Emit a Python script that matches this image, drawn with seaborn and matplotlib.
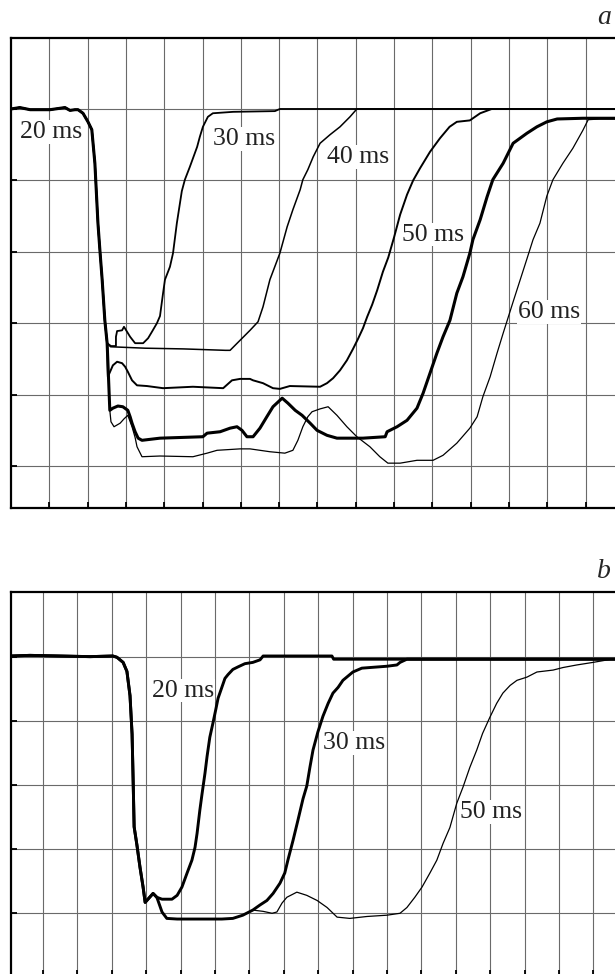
import pandas as pd
import seaborn as sns
import matplotlib.pyplot as plt

# panel a: time and signal, both in grid divisions
head_a_t = [0.0, 0.23, 0.5, 1.02, 1.41, 1.54, 1.67, 1.75, 1.88, 2.01, 2.11, 2.19, 2.27, 2.32, 2.38, 2.45, 2.51]
head_a_v = [5.0, 5.02, 4.99, 4.99, 5.02, 4.98, 4.99, 4.99, 4.94, 4.82, 4.71, 4.24, 3.40, 3.03, 2.61, 2.04, 1.72]

a20_t = [2.61, 2.74, 2.74, 2.77, 2.90, 2.95, 3.11, 3.24, 3.45, 3.58, 3.68, 3.81, 3.89, 3.97, 4.02, 4.15, 4.23,
         4.33, 4.46, 4.54, 4.67, 4.86, 4.93, 5.01, 5.14, 5.27, 5.80, 6.89, 7.02, 15.77]
a20_v = [1.68, 1.68, 1.81, 1.89, 1.90, 1.95, 1.81, 1.72, 1.72, 1.79, 1.88, 2.00, 2.10, 2.42, 2.61, 2.79, 2.98,
         3.40, 3.85, 4.01, 4.19, 4.47, 4.61, 4.75, 4.89, 4.94, 4.96, 4.97, 5.00, 5.00]

a30_t = [2.60, 3.50, 4.50, 5.60, 5.72, 5.98, 6.24, 6.45, 6.58, 6.76, 7.02, 7.21, 7.36, 7.55, 7.62, 7.75, 7.89,
         8.07, 8.33, 8.59, 8.85, 9.03, 15.77]
a30_v = [1.67, 1.65, 1.64, 1.62, 1.62, 1.76, 1.90, 2.02, 2.23, 2.61, 2.98, 3.35, 3.59, 3.87, 4.01, 4.15, 4.33,
         4.52, 4.64, 4.75, 4.89, 5.00, 5.00]

a40_t = [2.53, 2.66, 2.77, 2.90, 2.98, 3.05, 3.16, 3.29, 3.55, 3.97, 4.75, 5.54, 5.77, 5.98, 6.24, 6.32, 6.58,
         6.84, 7.02, 7.28, 8.07, 8.25, 8.41, 8.59, 8.77, 8.93, 9.06, 9.19, 9.30, 9.43, 9.56, 9.71, 9.85, 10.00,
         10.16, 10.34, 10.50, 10.68, 10.94, 11.20, 11.45, 11.64, 11.98, 12.25, 12.55, 15.77]
a40_v = [1.25, 1.41, 1.46, 1.44, 1.39, 1.32, 1.20, 1.13, 1.12, 1.09, 1.11, 1.09, 1.20, 1.22, 1.22, 1.20, 1.16,
         1.09, 1.08, 1.12, 1.11, 1.16, 1.23, 1.34, 1.48, 1.64, 1.78, 1.93, 2.09, 2.26, 2.46, 2.72, 2.92, 3.20,
         3.52, 3.80, 4.00, 4.17, 4.40, 4.59, 4.75, 4.82, 4.84, 4.94, 5.00, 5.00]

a50_t = [2.58, 2.66, 2.79, 2.92, 3.05, 3.11, 3.16, 3.24, 3.32, 3.42, 3.89, 5.01, 5.12, 5.46, 5.72, 5.90, 6.03,
         6.16, 6.32, 6.50, 6.68, 6.84, 7.08, 7.23, 7.42, 7.60, 7.81, 7.99, 8.25, 8.51, 9.19, 9.77, 9.82, 10.08,
         10.34, 10.60, 10.76, 10.94, 11.12, 11.28, 11.46, 11.64, 11.80, 11.98, 12.06, 12.25, 12.43, 12.58, 12.85,
         13.11, 13.47, 13.73, 13.99, 14.26, 14.93, 15.77]
a50_v = [0.78, 0.81, 0.84, 0.83, 0.78, 0.69, 0.60, 0.48, 0.39, 0.36, 0.39, 0.41, 0.46, 0.48, 0.53, 0.55, 0.50,
         0.41, 0.41, 0.53, 0.69, 0.83, 0.95, 0.88, 0.78, 0.71, 0.60, 0.50, 0.43, 0.39, 0.39, 0.41, 0.48, 0.55,
         0.64, 0.81, 1.02, 1.30, 1.58, 1.81, 2.04, 2.42, 2.65, 2.98, 3.17, 3.45, 3.77, 4.01, 4.24,
         4.52, 4.66, 4.75, 4.82, 4.86, 4.87, 4.87]

a60_t = [2.58, 2.61, 2.69, 2.85, 2.95, 3.05, 3.16, 3.24, 3.29, 3.42, 3.89, 4.75, 5.12, 5.38, 5.98, 6.24, 6.76,
         7.15, 7.36, 7.49, 7.62, 7.75, 7.86, 8.07, 8.28, 8.51, 8.77, 9.03, 9.37, 9.63, 9.84, 10.16, 10.60, 11.02,
         11.28, 11.64, 11.98, 12.17, 12.32, 12.51, 12.69, 12.85, 12.98, 13.11, 13.29, 13.47, 13.63, 13.81, 13.99,
         14.15, 14.41, 14.67, 14.93, 15.07, 15.38, 15.77]
a60_v = [0.78, 0.62, 0.55, 0.60, 0.66, 0.71, 0.55, 0.40, 0.27, 0.13, 0.14, 0.13, 0.18, 0.22, 0.24, 0.24, 0.20,
         0.18, 0.22, 0.36, 0.55, 0.69, 0.76, 0.80, 0.83, 0.71, 0.55, 0.41, 0.27, 0.13, 0.04, 0.04, 0.08, 0.08,
         0.15, 0.32, 0.53, 0.69, 0.97, 1.25, 1.58, 1.86, 2.08, 2.30, 2.60, 2.90, 3.17, 3.40, 3.78,
         4.01, 4.24, 4.45, 4.70, 4.85, 4.86, 4.86]

# panel b
head_b_t = [0.07, 0.62, 1.49, 2.37, 3.03, 3.15, 3.33, 3.44, 3.53, 3.59, 3.62, 3.65, 3.73, 3.82, 3.91, 3.97, 4.20, 4.31]
head_b_v = [4.02, 4.03, 4.02, 4.01, 4.02, 4.00, 3.92, 3.78, 3.40, 2.80, 2.10, 1.35, 1.07, 0.72, 0.41, 0.17, 0.31, 0.25]

b20_t = [4.46, 4.75, 4.90, 5.04, 5.19, 5.33, 5.42, 5.48, 5.56, 5.62, 5.71, 5.77, 5.85, 5.94, 6.03, 6.09, 6.20,
         6.29, 6.38, 6.52, 6.67, 6.87, 7.10, 7.31, 7.40, 9.40, 9.45, 17.63]
b20_v = [0.22, 0.22, 0.28, 0.41, 0.63, 0.83, 1.03, 1.25, 1.61, 1.85, 2.19, 2.45, 2.75, 2.97, 3.20, 3.36, 3.53,
         3.67, 3.73, 3.81, 3.85, 3.90, 3.92, 3.96, 4.02, 4.02, 3.97, 3.97]

b30_t = [4.46, 4.60, 4.90, 6.20, 6.52, 6.81, 7.10, 7.31, 7.51, 7.69, 7.89, 8.03, 8.12, 8.27, 8.41, 8.56, 8.67,
         8.76, 8.85, 8.99, 9.14, 9.29, 9.43, 9.58, 9.72, 10.01, 10.27, 10.51, 11.00, 11.29, 11.38, 11.58, 17.63]
b30_v = [0.02, -0.08, -0.09, -0.09, -0.08, -0.03, 0.05, 0.13, 0.20, 0.31, 0.47, 0.63, 0.83, 1.14, 1.45, 1.79, 1.99,
         2.28, 2.55, 2.83, 3.08, 3.28, 3.44, 3.53, 3.64, 3.77, 3.83, 3.84, 3.86, 3.88, 3.92, 3.97, 3.97]

b50_t = [4.46, 4.60, 4.90, 6.20, 6.52, 6.81, 7.10, 7.40, 7.66, 7.80, 7.95, 8.09, 8.38, 8.67, 8.97, 9.26, 9.55,
         9.92, 10.42, 11.00, 11.38, 11.58, 11.81, 12.02, 12.25, 12.45, 12.63, 12.83, 13.03, 13.21, 13.41, 13.61,
         13.78, 13.99, 14.19, 14.37, 14.58, 14.78, 15.07, 15.36, 15.83, 16.12, 16.52, 16.99, 17.63]
b50_v = [0.02, -0.08, -0.09, -0.09, -0.08, -0.03, 0.05, 0.03, 0.00, 0.02, 0.16, 0.25, 0.33, 0.28, 0.20, 0.09, -0.06,
         -0.08, -0.05, -0.03, 0.00, 0.09, 0.25, 0.41, 0.63, 0.83, 1.09, 1.34, 1.72, 1.97, 2.28, 2.55,
         2.81, 3.06, 3.28, 3.44, 3.56, 3.64, 3.69, 3.77, 3.80, 3.84, 3.88, 3.92, 3.98]

labels_a = ["20 ms", "30 ms", "40 ms", "50 ms", "60 ms"]
label_a_t = [0.23, 5.27, 8.25, 10.21, 13.24]
label_a_v = [4.68, 4.58, 4.33, 3.24, 2.16]
labels_b = ["20 ms", "30 ms", "50 ms"]
label_b_t = [4.17, 9.14, 13.12]
label_b_v = [3.48, 2.66, 1.58]

sns.set_style("white")
plt.rcParams['font.family'] = ['Liberation Serif', 'DejaVu Serif']

fig = plt.figure(figsize=(6.15, 9.74), dpi=100)
ax_a = fig.add_axes([11 / 615, 466 / 974, 604 / 615, 470 / 974])
ax_b = fig.add_axes([11 / 615, -2 / 974, 604 / 615, 384 / 974])


def trace(ax, t, v, lw):
    df = pd.DataFrame({"t": t, "v": v})
    sns.lineplot(data=df, x="t", y="v", ax=ax, color="black", lw=lw,
                 sort=False, estimator=None, legend=False, zorder=4)


trace(ax_a, head_a_t + a20_t, head_a_v + a20_v, 1.3)
trace(ax_a, head_a_t + a30_t, head_a_v + a30_v, 1.1)
trace(ax_a, head_a_t + a40_t, head_a_v + a40_v, 1.4)
trace(ax_a, head_a_t + a60_t, head_a_v + a60_v, 0.9)
trace(ax_a, head_a_t + a50_t, head_a_v + a50_v, 2.2)

trace(ax_b, head_b_t + b50_t, head_b_v + b50_v, 0.9)
trace(ax_b, head_b_t + b30_t, head_b_v + b30_v, 2.1)
trace(ax_b, head_b_t + b20_t, head_b_v + b20_v, 2.1)

for ax, xmax, ymax, lim in [(ax_a, 15, 5, ((0, 15.77), (-0.588, 5.994))),
                            (ax_b, 17, 4, ((0.07, 17.63), (-0.98, 5.02)))]:
    ax.set_xlim(*lim[0])
    ax.set_ylim(*lim[1])
    ax.set_xticks(range(1, xmax + 1))
    ax.set_yticks(range(0, ymax + 1))
    ax.grid(True, color="#6a6a6a", lw=0.8)
    ax.set_axisbelow(True)
    ax.tick_params(direction="in", length=4, width=1.3, color="black",
                   left=True, bottom=True, labelleft=False, labelbottom=False)
    ax.set(xlabel="", ylabel="")
    for side in ["top", "left", "bottom"]:
        ax.spines[side].set_color("black")
        ax.spines[side].set_linewidth(1.6)
    ax.spines["right"].set_visible(False)

for ax, labs, ts, vs in [(ax_a, labels_a, label_a_t, label_a_v), (ax_b, labels_b, label_b_t, label_b_v)]:
    for lab, t, v in zip(labs, ts, vs):
        ax.text(t, v, lab, fontsize=18.5, ha="left", va="center", color="#222222", zorder=3,
                bbox=dict(facecolor="white", edgecolor="none", pad=0.5))

fig.text(604 / 615, 1 - 18 / 974, "a", fontsize=20, style="italic", ha="center", va="center")
fig.text(604 / 615, 1 - 572 / 974, "b", fontsize=20, style="italic", ha="center", va="center")

fig.savefig("out.png", dpi=100)
